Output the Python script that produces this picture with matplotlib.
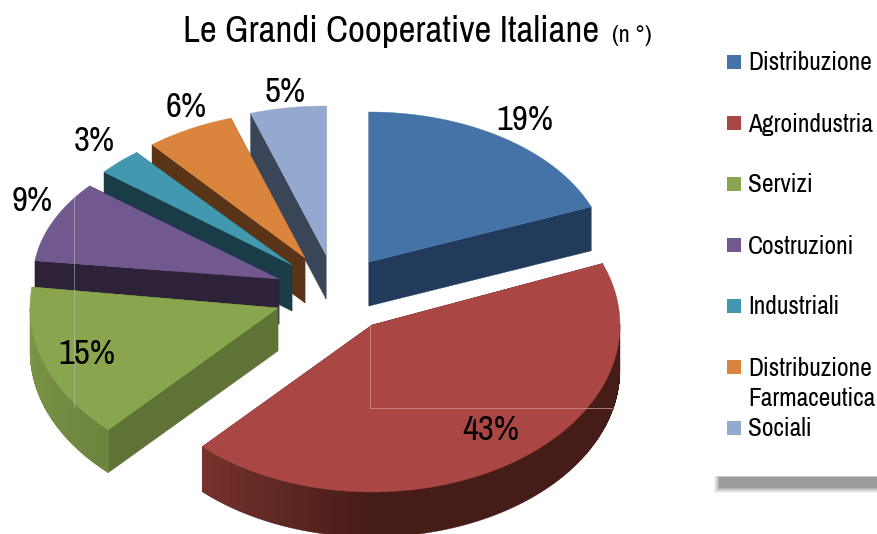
import matplotlib
matplotlib.use('Agg')
import matplotlib.pyplot as plt
import matplotlib.colors as mcolors
import numpy as np

plt.rcParams['font.family'] = ['Archivo Narrow', 'Roboto Condensed', 'Liberation Sans', 'DejaVu Sans']

# data
categories = ['Distribuzione', 'Agroindustria', 'Servizi', 'Costruzioni',
              'Industriali', 'Distribuzione\nFarmaceutica', 'Sociali']
values = [19, 43, 15, 9, 3, 6, 5]

# look of each slice
top_colors = ['#4572a7', '#aa4643', '#89a54e', '#71588f', '#4198af', '#db843d', '#93a9cf']
wall_colors = ['#223a5c', '#461c18', '#5f7337', '#2d2238', '#1a3c48', '#5a3416', '#3a4558']
rim_left_colors = ['#223a5c', '#78332e', '#7d9647', '#2d2238', '#1a3c48', '#5a3416', '#3a4558']
apex_x = [369, 372, 278, 279, 292, 305, 326]
apex_y = [262, 325, 308, 279, 265, 258, 255]
radius_x = [239, 248, 248, 246, 244, 240, 244]
radius_y = [150, 167, 167, 146, 146, 147, 149]
depths = [44, 45, 43, 45, 46, 45, 44]
draw_order = [6, 5, 4, 3, 2, 0, 1]

label_x = [525, 491, 87, 32, 94, 186, 285]
label_y = [120, 430, 354, 201, 141, 107, 92]
legend_y = [62, 123, 184, 245, 306, 367, 428]

fig = plt.figure(figsize=(8.78, 5.34), dpi=100)
ax = fig.add_axes([0, 0, 1, 1])
ax.set_xlim(0, 878)
ax.set_ylim(534, 0)
ax.axis('off')


def ellipse_point(i, angle):
    # angle in degrees, clockwise from the top
    a = np.radians(angle)
    return apex_x[i] + radius_x[i] * np.sin(a), apex_y[i] - radius_y[i] * np.cos(a)


def draw_slice(i, start, end):
    d = depths[i]
    # flat walls first
    for angle in (start, end):
        x, y = ellipse_point(i, angle)
        ax.fill([apex_x[i], x, x, apex_x[i]],
                [apex_y[i], y, y + d, apex_y[i] + d],
                color=wall_colors[i], lw=0.3)
    # outer rim, only the front half can be seen
    rim_start = max(start, 90)
    rim_end = min(end, 270)
    if rim_end > rim_start:
        steps = np.linspace(rim_start, rim_end, 100)
        xs, ys = ellipse_point(i, steps)
        ax.fill(np.r_[xs, xs[::-1]], np.r_[ys, ys[::-1] + d], color=wall_colors[i], lw=0.3)
        c_dark = np.array(mcolors.to_rgb(wall_colors[i]))
        c_left = np.array(mcolors.to_rgb(rim_left_colors[i]))
        for a0, a1 in zip(steps[:-1], steps[1:]):
            x0, y0 = ellipse_point(i, a0)
            x1, y1 = ellipse_point(i, a1)
            t = np.clip((a0 - 180) / max(rim_end - 180, 1), 0, 1)
            col = c_dark + (c_left - c_dark) * t
            ax.fill([x0, x1, x1, x0], [y0, y1, y1 + d - 1, y0 + d - 1], color=col, lw=0,
                    antialiased=False)
    # top surface
    angles = np.linspace(start, end, 80)
    xs, ys = ellipse_point(i, angles)
    ax.fill(np.r_[apex_x[i], xs], np.r_[apex_y[i], ys], color=top_colors[i], lw=0.3)


edges = np.r_[0, np.cumsum(values)] / sum(values) * 360
for i in draw_order:
    draw_slice(i, edges[i], edges[i + 1])

# faint frame lines that show through the slices
ax.plot([370, 370, 612], [325, 408, 408], color='#c98a88', lw=0.6)
ax.plot([74, 74], [196, 408], color='#c4c8c0', lw=0.5, alpha=0.7)

for i in range(len(values)):
    ax.text(label_x[i], label_y[i], f'{values[i]}%', fontsize=25, color='black',
            ha='center', va='center')

# title
ax.text(183, 32, 'Le Grandi Cooperative Italiane', fontsize=26.6, color='black',
        ha='left', va='center')
ax.text(612, 35, '(n °)', fontsize=17.5, color='black', ha='left', va='center')

# legend
for i, name in enumerate(categories):
    ax.fill([727, 741, 741, 727],
            [legend_y[i] - 7, legend_y[i] - 7, legend_y[i] + 7, legend_y[i] + 7],
            color=top_colors[i], lw=0)
    if '\n' in name:
        first, second = name.split('\n')
        ax.text(748, legend_y[i] + 1, first, fontsize=18.3, ha='left', va='center')
        ax.text(748, legend_y[i] + 32, second, fontsize=18.3, ha='left', va='center')
    else:
        ax.text(748, legend_y[i] + 1, name, fontsize=18.3, ha='left', va='center')

# soft grey shadow under the legend box
for grow, alpha in [(5, 0.08), (4, 0.1), (3, 0.12), (2, 0.15), (1, 0.2), (0, 0.35)]:
    ax.fill([719 - grow, 880, 880, 719 - grow],
            [477 - grow * 0.3, 477 - grow * 0.3, 488 + grow, 488 + grow],
            color='#707070', alpha=alpha, lw=0)

fig.savefig('out.png', dpi=100)
